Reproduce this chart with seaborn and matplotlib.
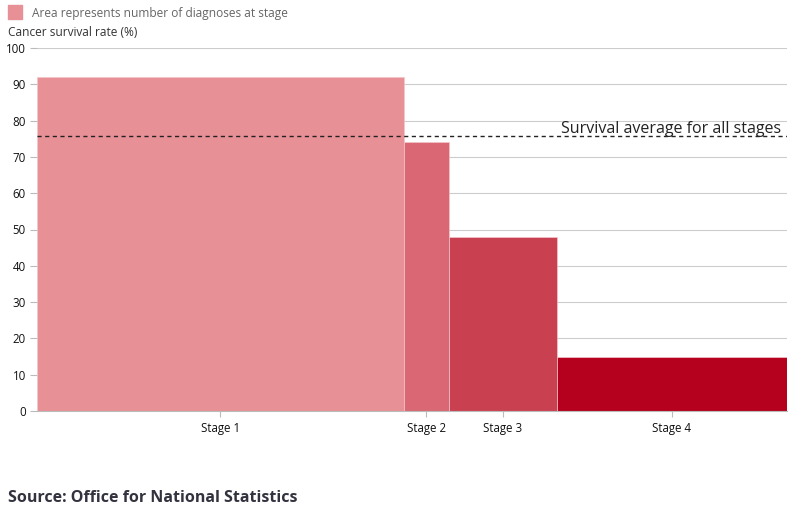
import numpy as np
import matplotlib.pyplot as plt
import seaborn as sns

# --- data ---
stages = ["Stage 1", "Stage 2", "Stage 3", "Stage 4"]
survival = [92.0, 74.1, 47.8, 14.9]          # survival rate (%)
diagnoses_share = [48.9, 6.0, 14.4, 30.7]    # relative number of diagnoses (bar width)
average_survival = 75.8
stage_colors = ["#e79096", "#d96874", "#c94050", "#b5001e"]

sns.set_style("white")
plt.rcParams["font.family"] = ["Open Sans", "DejaVu Sans"]

fig = plt.figure(figsize=(7.98, 5.20), dpi=100)
ax = fig.add_axes([37 / 798, 1 - 411 / 520, 750 / 798, 363 / 520])

widths = np.array(diagnoses_share)
lefts = np.concatenate([[0], np.cumsum(widths)[:-1]])
centers = lefts + widths / 2

ax.bar(lefts, survival, width=widths, align="edge", color=stage_colors,
       edgecolor="#f4c6ca", linewidth=0.5, zorder=2)

ax.axhline(average_survival, color="#222222", linestyle=(0, (3, 2.5)),
           linewidth=1, zorder=3)
ax.text(widths.sum() - 0.8, average_survival - 0.2, "Survival average for all stages",
        ha="right", va="bottom", fontsize=11.5, color="#222222", zorder=4)

ax.set_xlim(0, widths.sum())
ax.set_ylim(0, 100)
ax.set_yticks(range(0, 101, 10))
ax.set_xticks(centers)
ax.set_xticklabels(stages)
ax.yaxis.grid(True, color="#cccccc", linewidth=0.8, zorder=0)
ax.xaxis.grid(False)
for side in ["left", "right", "top"]:
    ax.spines[side].set_visible(False)
ax.spines["bottom"].set_color("#bbbbbb")
ax.tick_params(axis="y", length=5, color="#bbbbbb", labelsize=8.3, labelcolor="#111111", pad=3, left=True)
ax.tick_params(axis="x", length=4, color="#bbbbbb", labelsize=8.3, labelcolor="#111111", pad=4, bottom=True)

# legend + titles
fig.patches.append(plt.Rectangle((8 / 798, 1 - 19 / 520), 14 / 798, 14 / 520,
                                 transform=fig.transFigure, color=stage_colors[0]))
fig.text(32 / 798, 1 - 14 / 520, "Area represents number of diagnoses at stage",
         fontsize=8.6, color="#666666", va="center")
fig.text(8 / 798, 1 - 33 / 520, "Cancer survival rate (%)",
         fontsize=8.6, color="#333333", va="center")
fig.text(8 / 798, 1 - 498 / 520, "Source: Office for National Statistics",
         fontsize=11.5, fontweight="bold", color="#333340", va="center")

plt.savefig("out.png", dpi=100)
